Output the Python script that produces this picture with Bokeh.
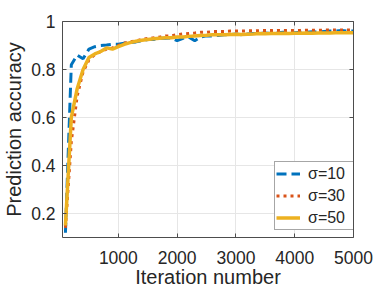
from bokeh.plotting import figure
from bokeh.models import LinearAxis, FixedTicker, Range1d, Legend, LegendItem
from bokeh.embed import file_html
from bokeh.resources import INLINE

iterations = [100, 200, 300, 400, 500, 600, 700, 800, 900, 1000,
              1100, 1200, 1300, 1400, 1500, 1600, 1700, 1800, 1900, 2000,
              2100, 2200, 2300, 2400, 2500, 2600, 2700, 2800, 2900, 3000,
              3100, 3200, 3300, 3400, 3500, 3600, 3700, 3800, 3900, 4000,
              4100, 4200, 4300, 4400, 4500, 4600, 4700, 4800, 4900, 5000]

acc_sigma10 = [0.12, 0.82, 0.86, 0.845, 0.885, 0.895, 0.900, 0.902, 0.905, 0.905,
               0.910, 0.912, 0.915, 0.920, 0.925, 0.925, 0.930, 0.930, 0.932, 0.920,
               0.930, 0.935, 0.920, 0.935, 0.940, 0.940, 0.942, 0.945, 0.945, 0.948,
               0.945, 0.948, 0.950, 0.950, 0.952, 0.950, 0.952, 0.955, 0.955, 0.953,
               0.955, 0.955, 0.957, 0.956, 0.958, 0.960, 0.960, 0.962, 0.960, 0.960]

acc_sigma30 = [0.14, 0.50, 0.69, 0.79, 0.84, 0.862, 0.875, 0.885, 0.890, 0.900,
               0.910, 0.915, 0.920, 0.925, 0.930, 0.932, 0.935, 0.940, 0.940, 0.945,
               0.948, 0.950, 0.952, 0.955, 0.955, 0.958, 0.958, 0.958, 0.960, 0.960,
               0.960, 0.961, 0.961, 0.962, 0.962, 0.962, 0.963, 0.962, 0.963, 0.963,
               0.963, 0.964, 0.964, 0.964, 0.964, 0.965, 0.965, 0.965, 0.965, 0.965]

acc_sigma50 = [0.15, 0.60, 0.72, 0.80, 0.85, 0.865, 0.875, 0.890, 0.885, 0.895,
               0.905, 0.912, 0.918, 0.922, 0.925, 0.928, 0.930, 0.932, 0.932, 0.935,
               0.935, 0.938, 0.940, 0.942, 0.943, 0.945, 0.945, 0.945, 0.946, 0.947,
               0.946, 0.947, 0.948, 0.950, 0.949, 0.950, 0.950, 0.951, 0.950, 0.951,
               0.951, 0.952, 0.951, 0.952, 0.952, 0.952, 0.953, 0.953, 0.953, 0.953]

series_labels = ["σ=10", "σ=30", "σ=50"]
x_ticks = [1000, 2000, 3000, 4000, 5000]
y_ticks = [0.2, 0.4, 0.6, 0.8, 1.0]

FONT = "Liberation Sans"
TXT = "#262626"
AX = "#4d4d4d"

p = figure(width=390, height=293, output_backend="svg", toolbar_location=None,
           x_range=Range1d(50, 5000), y_range=Range1d(0.1, 1.0),
           min_border_left=60, min_border_right=37, min_border_top=21,
           min_border_bottom=56)
p.outline_line_color = None
p.background_fill_color = "white"
p.border_fill_color = "white"

r1 = p.line(iterations, acc_sigma10, line_color="#0072BD", line_width=3, line_dash="10 5")
r2 = p.line(iterations, acc_sigma30, line_color="#D95319", line_width=3, line_dash="3 4")
r3 = p.line(iterations, acc_sigma50, line_color="#EDB120", line_width=3.5)

def style_axis(ax):
    ax.axis_line_color = AX
    ax.axis_line_width = 1
    ax.major_tick_line_color = AX
    ax.major_tick_in = 4
    ax.major_tick_out = 0
    ax.minor_tick_line_color = None
    ax.major_label_text_font = FONT
    ax.major_label_text_font_size = "17.5px"
    ax.major_label_text_color = TXT
    ax.axis_label_text_font = FONT
    ax.axis_label_text_font_size = "20px"
    ax.axis_label_text_font_style = "normal"
    ax.axis_label_text_color = TXT

xt = FixedTicker(ticks=x_ticks)
yt = FixedTicker(ticks=y_ticks)

p.xaxis.ticker = xt
p.yaxis.ticker = yt
p.yaxis.major_label_overrides = {1.0: "1"}
p.xaxis.axis_label = "Iteration number"
p.yaxis.axis_label = "Prediction accuracy"
for ax in p.xaxis + p.yaxis:
    style_axis(ax)
p.xaxis.major_label_standoff = 13
p.yaxis.major_label_standoff = 7
p.xaxis.axis_label_standoff = -1
p.yaxis.axis_label_standoff = 3

top = LinearAxis(ticker=xt, major_label_overrides={t: "" for t in x_ticks})
right = LinearAxis(ticker=yt, major_label_overrides={t: "" for t in y_ticks})
style_axis(top)
style_axis(right)
top.major_label_standoff = 0
right.major_label_standoff = 0
p.add_layout(top, "above")
p.add_layout(right, "right")

p.xgrid.ticker = xt
p.ygrid.ticker = yt
p.grid.grid_line_color = "#e6e6e6"
p.grid.grid_line_width = 1

legend = Legend(items=[LegendItem(label=series_labels[0], renderers=[r1]),
                       LegendItem(label=series_labels[1], renderers=[r2]),
                       LegendItem(label=series_labels[2], renderers=[r3])],
                location=(212, 7))
legend.label_text_font = FONT
legend.label_text_font_size = "16px"
legend.label_text_color = TXT
legend.border_line_color = AX
legend.border_line_width = 1
legend.background_fill_alpha = 1
legend.padding = 1
legend.spacing = 1
legend.margin = 0
legend.glyph_width = 24
legend.glyph_height = 21
legend.label_height = 21
legend.label_width = 47
legend.label_standoff = 8
p.add_layout(legend, "center")

open("out.html", "w").write(file_html(p, INLINE))
